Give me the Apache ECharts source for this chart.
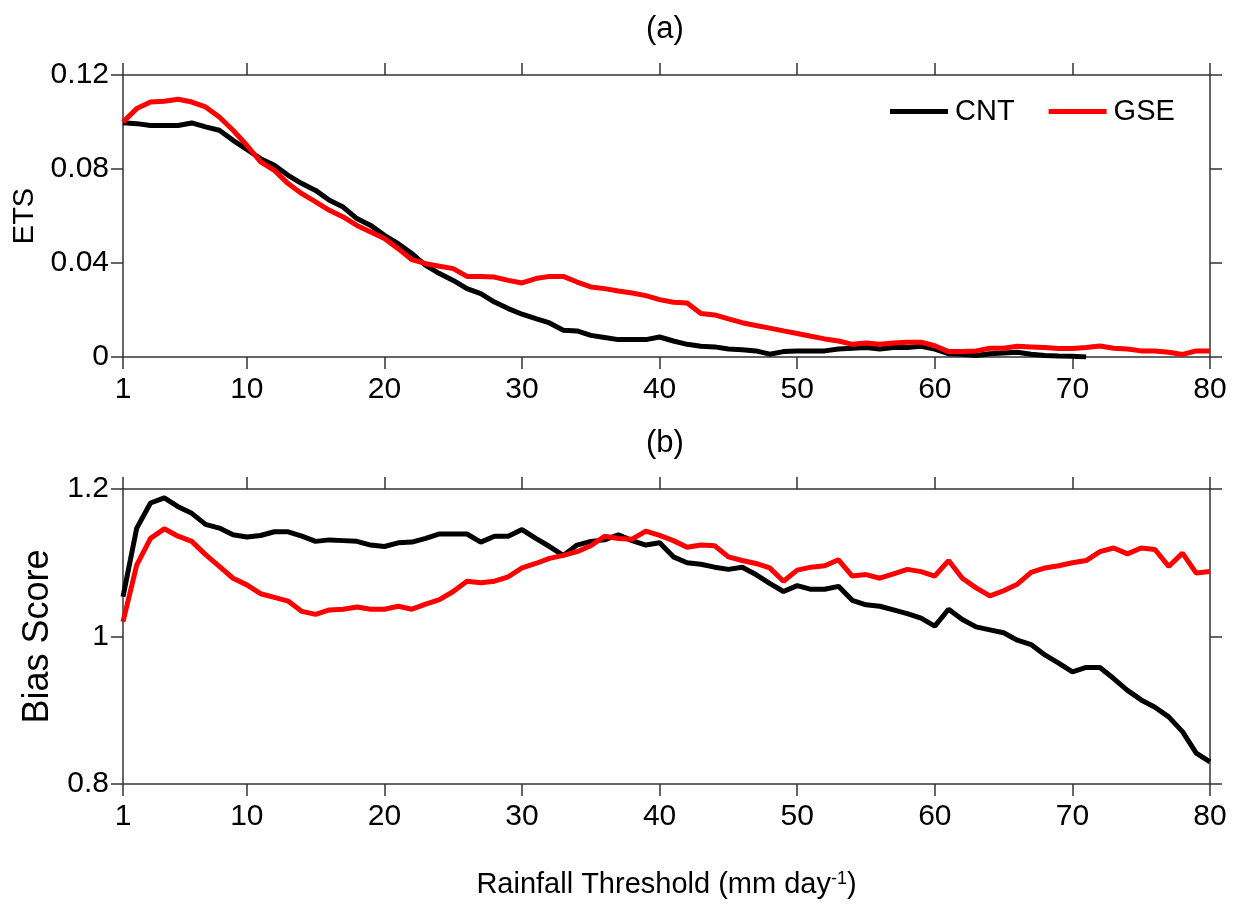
<!DOCTYPE html>
<html>
<head>
<meta charset="utf-8">
<script src="https://cdn.jsdelivr.net/npm/echarts@6/dist/echarts.min.js"></script>
<style>
html,body{margin:0;padding:0;background:#fff;}
#chart{width:1233px;height:905px;}
</style>
</head>
<body>
<div id="chart"></div>
<script>
// ---------- data ----------
var thresholds = [1,2,3,4,5,6,7,8,9,10,11,12,13,14,15,16,17,18,19,20,
  21,22,23,24,25,26,27,28,29,30,31,32,33,34,35,36,37,38,39,40,
  41,42,43,44,45,46,47,48,49,50,51,52,53,54,55,56,57,58,59,60,
  61,62,63,64,65,66,67,68,69,70,71,72,73,74,75,76,77,78,79,80];

var etsCNT = [0.0997,0.0993,0.0985,0.0985,0.0985,0.0996,0.0979,0.0965,0.0922,0.0883,
  0.0844,0.0816,0.0773,0.0738,0.0709,0.0667,0.0638,0.0589,0.0560,0.0518,
  0.0482,0.0440,0.0390,0.0355,0.0326,0.0291,0.0270,0.0234,0.0206,0.0182,
  0.0163,0.0145,0.0114,0.0111,0.0092,0.0083,0.0074,0.0074,0.0074,0.0085,
  0.0068,0.0054,0.0046,0.0043,0.0034,0.0031,0.0026,0.0012,0.0023,0.0026,
  0.0026,0.0026,0.0034,0.0037,0.0040,0.0034,0.0040,0.0040,0.0046,0.0034,
  0.0014,0.0012,0.0006,0.0014,0.0017,0.0020,0.0012,0.0006,0.0004,0.0003,
  0.0000,null,null,null,null,null,null,null,null,null];

var etsGSE = [0.1000,0.1057,0.1085,0.1088,0.1097,0.1085,0.1064,0.1021,0.0965,0.0901,
  0.0830,0.0794,0.0738,0.0695,0.0660,0.0624,0.0596,0.0560,0.0532,0.0504,
  0.0461,0.0414,0.0397,0.0386,0.0376,0.0343,0.0343,0.0340,0.0326,0.0315,
  0.0334,0.0343,0.0343,0.0319,0.0298,0.0291,0.0281,0.0272,0.0261,0.0244,
  0.0233,0.0230,0.0185,0.0179,0.0162,0.0146,0.0134,0.0123,0.0111,0.0100,
  0.0088,0.0077,0.0068,0.0054,0.0060,0.0054,0.0060,0.0063,0.0063,0.0048,
  0.0023,0.0023,0.0026,0.0037,0.0037,0.0046,0.0043,0.0040,0.0036,0.0036,
  0.0040,0.0047,0.0037,0.0034,0.0026,0.0026,0.0020,0.0011,0.0026,0.0026];

var biasCNT = [1.054,1.147,1.181,1.188,1.176,1.167,1.152,1.147,1.138,1.135,
  1.137,1.142,1.142,1.136,1.129,1.131,1.130,1.129,1.124,1.122,
  1.127,1.128,1.133,1.139,1.139,1.139,1.128,1.136,1.136,1.145,
  1.133,1.122,1.110,1.124,1.129,1.131,1.138,1.130,1.124,1.127,
  1.108,1.100,1.098,1.094,1.091,1.094,1.084,1.072,1.061,1.069,
  1.064,1.064,1.068,1.049,1.043,1.041,1.036,1.031,1.025,1.014,
  1.037,1.023,1.013,1.009,1.005,0.995,0.989,0.975,0.964,0.952,
  0.958,0.958,0.943,0.927,0.914,0.904,0.891,0.871,0.842,0.830];

var biasGSE = [1.020,1.097,1.133,1.146,1.136,1.129,1.111,1.095,1.079,1.070,
  1.058,1.053,1.048,1.034,1.030,1.036,1.037,1.040,1.037,1.037,
  1.041,1.037,1.044,1.050,1.061,1.075,1.073,1.075,1.081,1.093,
  1.099,1.106,1.110,1.115,1.123,1.136,1.133,1.132,1.143,1.137,
  1.130,1.121,1.124,1.123,1.108,1.103,1.099,1.093,1.075,1.090,
  1.094,1.096,1.104,1.082,1.084,1.079,1.085,1.091,1.088,1.082,
  1.103,1.079,1.066,1.055,1.062,1.071,1.087,1.093,1.096,1.100,
  1.103,1.115,1.120,1.112,1.120,1.118,1.095,1.113,1.086,1.088];

var xTickValues = [1,10,20,30,40,50,60,70,80];
var xTickLabels = ['1','10','20','30','40','50','60','70','80'];
var etsTickValues = [0,0.04,0.08,0.12];
var etsTickLabels = ['0','0.04','0.08','0.12'];
var biasTickValues = [0.8,1.0,1.2];
var biasTickLabels = ['0.8','1','1.2'];

var seriesNames = ['CNT','GSE'];
var seriesColors = ['#000000','#ff0000'];
var panelTitles = ['(a)','(b)'];
var yNames = ['ETS','Bias Score'];
var xName = 'Rainfall Threshold (mm day{sup|-1})';

// ---------- chart ----------
var FONT = "'Liberation Sans',Arial,sans-serif";
var AX = {color:'#333333', width:1.5};

function labelFrom(values, labels){
  return function(v){
    for (var i=0;i<values.length;i++){ if (Math.abs(values[i]-v) < 1e-9) return labels[i]; }
    return '';
  };
}

function xAxisDef(grid, pos, showLabel, name){
  var a = {
    gridIndex: grid, type:'value', min:1, max:80, position: pos,
    axisLine:{show:true, onZero:false, lineStyle:AX},
    axisTick:{show:true, inside:false, length:12, customValues:xTickValues, lineStyle:AX},
    axisLabel:{show:showLabel, customValues:xTickValues, formatter:labelFrom(xTickValues,xTickLabels),
      fontSize:30, fontFamily:FONT, color:'#000', margin:18},
    splitLine:{show:false}
  };
  if (name){
    a.name = name; a.nameLocation='middle'; a.nameGap = 86;
    a.nameTextStyle = {fontSize:29, fontFamily:FONT, color:'#000',
      rich:{sup:{fontSize:18, fontFamily:FONT, color:'#000', verticalAlign:'top', lineHeight:29}}};
  }
  return a;
}
function yAxisDef(grid, pos, showLabel, mn, mx, tv, tl, name, nameSize, nameGap){
  var a = {
    gridIndex: grid, type:'value', min:mn, max:mx, position:pos,
    axisLine:{show:true, onZero:false, lineStyle:AX},
    axisTick:{show:true, inside:false, length:12, customValues:tv, lineStyle:AX},
    axisLabel:{show:showLabel, customValues:tv, formatter:labelFrom(tv,tl),
      fontSize:30, fontFamily:FONT, color:'#000', margin:14},
    splitLine:{show:false}
  };
  if (name){
    a.name = name; a.nameLocation='middle'; a.nameGap = nameGap;
    a.nameTextStyle = {fontSize:nameSize, fontFamily:FONT, color:'#000'};
  }
  return a;
}
function pairs(vals){ return thresholds.map(function(x,i){ return [x, vals[i]]; }); }
function lineSeries(name, color, xi, yi, vals){
  return {name:name, type:'line', xAxisIndex:xi, yAxisIndex:yi, data:pairs(vals),
    showSymbol:false, symbol:'none', connectNulls:false, clip:true,
    color:color, lineStyle:{color:color, width:5}, z:3};
}

var chart = echarts.init(document.getElementById('chart'), null, {renderer:'canvas'});
chart.setOption({
  animation:false,
  backgroundColor:'#ffffff',
  title:[
    {text:panelTitles[0], left:646, top:14, padding:0, textStyle:{fontSize:31, fontWeight:'normal', fontFamily:FONT, color:'#000'}},
    {text:panelTitles[1], left:646, top:428, padding:0, textStyle:{fontSize:31, fontWeight:'normal', fontFamily:FONT, color:'#000'}}
  ],
  legend:{
    data:seriesNames, left:890, top:97, orient:'horizontal', padding:0,
    icon:'rect', itemWidth:58, itemHeight:5, itemGap:34,
    textStyle:{fontSize:29, fontFamily:FONT, color:'#000', padding:[0,0,0,2]}
  },
  grid:[
    {left:123, right:23, top:75, height:282, containLabel:false, outerBoundsMode:'none'},
    {left:123, right:23, top:489, height:295, containLabel:false, outerBoundsMode:'none'}
  ],
  xAxis:[
    xAxisDef(0,'bottom',true,null),
    xAxisDef(0,'top',false,null),
    xAxisDef(1,'bottom',true,xName),
    xAxisDef(1,'top',false,null)
  ],
  yAxis:[
    yAxisDef(0,'left',true,0,0.12,etsTickValues,etsTickLabels,yNames[0],29,78),
    yAxisDef(0,'right',false,0,0.12,etsTickValues,etsTickLabels,null),
    yAxisDef(1,'left',true,0.8,1.2,biasTickValues,biasTickLabels,yNames[1],36,66),
    yAxisDef(1,'right',false,0.8,1.2,biasTickValues,biasTickLabels,null)
  ],
  series:[
    lineSeries(seriesNames[0], seriesColors[0], 0, 0, etsCNT),
    lineSeries(seriesNames[1], seriesColors[1], 0, 0, etsGSE),
    lineSeries(seriesNames[0], seriesColors[0], 2, 2, biasCNT),
    lineSeries(seriesNames[1], seriesColors[1], 2, 2, biasGSE)
  ]
});
</script>
</body>
</html>
